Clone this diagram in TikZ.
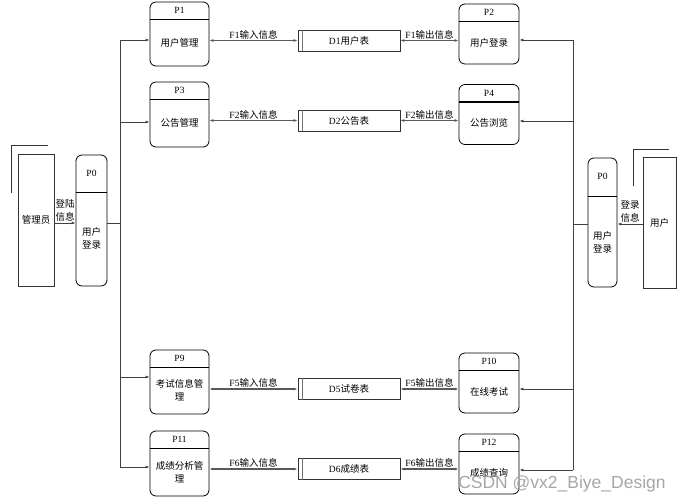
\documentclass[tikz,border=0pt]{standalone}
\usepackage{fontspec}
\setmainfont{Liberation Serif}
\newfontfamily\cjk{Noto Sans CJK SC}
\newfontfamily\wmfont{Liberation Sans}
\usetikzlibrary{positioning, arrows.meta, calc}

\begin{document}
\begin{tikzpicture}[
        x=1pt, y=-1pt,
        font=\fontsize{9.5}{13}\selectfont,
        proc/.style={draw=black, line width=0.8pt, rounded corners=6pt, minimum width=59pt, minimum height=64pt, inner sep=0pt},
        hdr/.style={draw=black, line width=1.3pt},
        store/.style={draw=black!80, line width=0.8pt, minimum width=102pt, minimum height=21pt, inner sep=0pt},
        storeln/.style={draw=black!55, line width=1.2pt},
        entity/.style={draw=black!80, line width=0.8pt, inner sep=0pt},
        entln/.style={draw=black!80, line width=0.8pt},
        bus/.style={draw=black!75, line width=0.8pt},
        entry/.style={-{Latex[length=4pt,width=3pt]}, draw=black!75, line width=0.8pt},
        flow/.style={{Latex[length=4pt,width=3pt]}-{Latex[length=4pt,width=3pt]}, draw=black!65, line width=1.1pt},
        flowlbl/.style={midway, above, inner sep=1pt},
        idtext/.style={inner sep=0pt},
        bodytext/.style={inner sep=0pt, align=center, font=\cjk\fontsize{9.5}{13}\selectfont}
        ]
        \useasboundingbox (0,0) rectangle (686,502);

        % Processes, left column
        \foreach \n/\x/\y/\h/\id/\txt in {p1/179.5/34/64/P1/用户管理, p3/179.5/114.5/65/P3/公告管理,
                p9/179.5/382/64/P9/考试信息管\\理, p11/179.5/463.5/65/P11/成绩分析管\\理} {
            \node[proc, minimum height=\h pt] (\n) at (\x,\y) {};
            \draw[hdr] ($(\n.north west)+(0,18)$) -- ($(\n.north east)+(0,18)$);
            \node[idtext] (\n id) at ($(\n.north)+(0,9)$) {\id};
            \node[bodytext] (\n txt) at ($(\n.north)+(0,{18+(\h-18)/2})$) {\txt};
        }

        % Processes, right column
        \foreach \n/\x/\y/\id/\txt in {p2/489/34/P2/用户登录, p4/489/114.5/P4/公告浏览,
                p10/489/383/P10/在线考试, p12/489/464/P12/成绩查询} {
            \node[proc, minimum width=60pt, minimum height=60pt] (\n) at (\x,\y) {};
            \draw[hdr] ($(\n.north west)+(0,18)$) -- ($(\n.north east)+(0,18)$);
            \node[idtext] (\n id) at ($(\n.north)+(0,9)$) {\id};
            \node[bodytext] (\n txt) at ($(\n.north)+(0,39)$) {\txt};
        }

        % Login processes P0
        \node[proc, minimum width=31pt, minimum height=131pt] (p0a) at (91.5,220.5) {};
        \draw[hdr] ($(p0a.north west)+(0,38)$) -- ($(p0a.north east)+(0,38)$);
        \node[idtext] (p0aid) at ($(p0a.north)+(0,19)$) {P0};
        \node[bodytext] (p0atxt) at ($(p0a.north)+(0,84)$) {用户\\登录};

        \node[proc, minimum width=29pt, minimum height=129pt] (p0b) at (602.5,222.5) {};
        \draw[hdr] ($(p0b.north west)+(0,39)$) -- ($(p0b.north east)+(0,39)$);
        \node[idtext] (p0bid) at ($(p0b.north)+(0,19)$) {P0};
        \node[bodytext] (p0btxt) at ($(p0b.north)+(0,85)$) {用户\\登录};

        % Data stores
        \foreach \d/\y/\txt in {d1/40.5/{D1{\cjk 用户表}}, d2/120.5/{D2{\cjk 公告表}},
                d5/389/{D5{\cjk 试卷表}}, d6/469/{D6{\cjk 成绩表}}} {
            \node[store] (\d) at (349,\y) {\txt};
            \draw[storeln] ($(\d.north west)+(5,0)$) -- ($(\d.south west)+(5,0)$);
        }

        % External entities
        \node[entity, minimum width=36pt, minimum height=132pt] (adm) at (36,220) {\cjk 管理员};
        \draw[entln] ($(adm.north west)+(-6,39)$) -- ++(0,-47) -- ++(36,0);
        \node[entity, minimum width=33pt, minimum height=131pt] (usr) at (659.5,222.5) {\cjk 用户};
        \draw[entln] ($(usr.north west)+(-9,29)$) -- ++(0,-36) -- ++(35,0);

        % Left bus
        \coordinate (lbtop) at (120,40);
        \coordinate (lbbot) at (120,467);
        \coordinate (lbm) at (120,223);
        \draw[bus] (lbtop) -- (lbbot);
        \draw[bus] (p0a.east |- lbm) -- (lbm);
        \foreach \n/\y in {p1/40, p3/122, p9/377, p11/467} {
            \coordinate (l\n) at (120,\y);
            \draw[entry] (l\n) -- (\n.west |- l\n);
        }

        % Right bus
        \coordinate (rbtop) at (573,40);
        \coordinate (rbbot) at (573,470);
        \coordinate (rbm) at (573,224);
        \draw[bus] (rbtop) -- (rbbot);
        \draw[bus] (rbm) -- (p0b.west |- rbm);
        \foreach \n/\y in {p2/40, p4/121, p10/389, p12/470} {
            \coordinate (r\n) at (573,\y);
            \draw[entry] (r\n) -- (\n.east |- r\n);
        }

        % Data flows
        \foreach \a/\d/\b/\f in {p1/d1/p2/F1, p3/d2/p4/F2, p9/d5/p10/F5, p11/d6/p12/F6} {
            \draw[flow] (\a.east |- \d.west) -- (\d.west) node[flowlbl] {\f{\cjk 输入信息}};
            \draw[flow] (\d.east) -- (\b.west |- \d.east) node[flowlbl] {\f{\cjk 输出信息}};
        }

        % Login flows
        \draw[entry] (adm.east |- lbm) -- (p0a.west |- lbm) node[flowlbl, align=center, font=\cjk\fontsize{9.5}{13}\selectfont] {登陆\\信息};
        \draw[entry] (usr.west |- rbm) -- (p0b.east |- rbm) node[flowlbl, align=center, font=\cjk\fontsize{9.5}{13}\selectfont] {登录\\信息};

        % Watermark
        \node[font=\wmfont\fontsize{17.5}{18}\selectfont, text=black!35, inner sep=0pt] (wm) at (562,484) {CSDN @vx2\_Biye\_Design};

    \end{tikzpicture}
\end{document}
